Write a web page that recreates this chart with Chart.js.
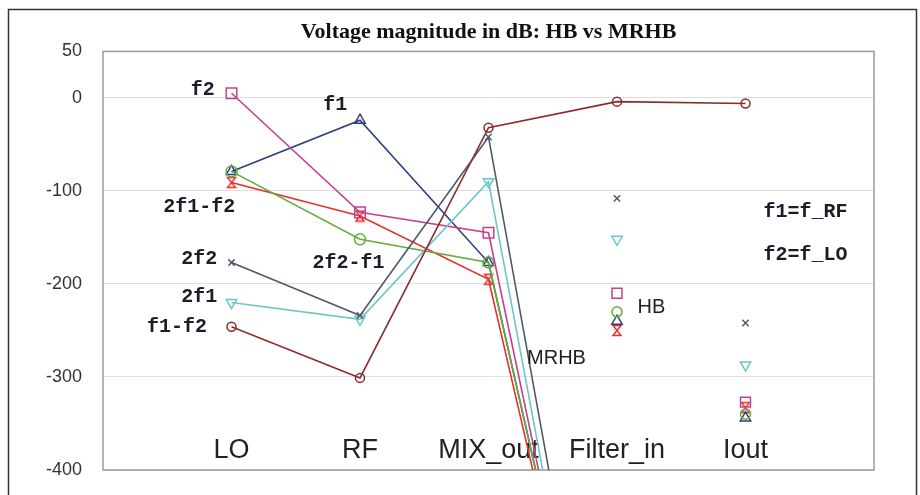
<!DOCTYPE html>
<html>
<head>
<meta charset="utf-8">
<script src="https://cdn.jsdelivr.net/npm/chart.js@4.4.0/dist/chart.umd.min.js"></script>
<style>
    html, body { margin: 0; padding: 0; background: #fff; }
</style>
</head>
<body>
<canvas id="VoltageChart" width="920" height="495"></canvas>
<script>
// nodes along the chain (x = 1..5, axis runs 0..6)
var categories = ["LO", "RF", "MIX_out", "Filter_in", "Iout"];
var yTicks = [50, 0, -100, -200, -300, -400];

// MRHB lines, one value per node (dB)
var mrhbF2     = [5, -123, -145, -800, null];
var mrhbF1     = [-79, -24, -177, -785, null];
var mrhb2F2    = [-177, -234, -42, -805, null];
var mrhb2F1    = [-220, -238, -90, -825, null];
var mrhb2F1mF2 = [-91, -127, -195, -790, null];
var mrhb2F2mF1 = [-79, -152, -177, -785, null];
var mrhbF1mF2  = [-246, -301, -32, -4, -6];

// HB markers at Filter_in and Iout
var hbF2     = [-210, -327];
var hbF1     = [-240, -344];
var hb2F2    = [-108, -242];
var hb2F1    = [-152, -287];
var hb2F1mF2 = [-250, -333];
var hb2F2mF1 = [-230, -340];

var colF2 = '#c2418e', colF1 = '#2b3d80', col2F2 = '#4c5a68', col2F1 = '#6cc6c4',
    col2F1mF2 = '#e5302c', col2F2mF1 = '#62ad3e', colF1mF2 = '#8a2c2c';

// hourglass marker for 2f1-f2
function hourglass(color) {
    var c = document.createElement('canvas');
    c.width = 12; c.height = 13;
    var g = c.getContext('2d');
    g.strokeStyle = color;
    g.lineWidth = 1.5;
    g.beginPath();
    g.moveTo(2, 1.5); g.lineTo(10, 1.5); g.lineTo(2, 11.5); g.lineTo(10, 11.5); g.closePath();
    g.stroke();
    return c;
}

function lineData(values) {
    return values.map(function (v, i) { return { x: i + 1, y: v }; });
}
function hbData(values) {
    return [{ x: 4, y: values[0] }, { x: 5, y: values[1] }];
}

function lineSet(label, values, color, style, radius, rotation) {
    return {
        label: label, data: lineData(values), borderColor: color, backgroundColor: 'transparent',
        borderWidth: 1.6, pointStyle: style, pointRadius: radius, pointRotation: rotation || 0,
        pointBorderColor: color, pointBorderWidth: 1.5, tension: 0, showLine: true
    };
}
function hbSet(label, values, color, style, radius, rotation) {
    return {
        label: label, data: hbData(values), borderColor: color, backgroundColor: 'transparent',
        showLine: false, pointStyle: style, pointRadius: radius, pointRotation: rotation || 0,
        pointBorderColor: color, pointBorderWidth: 1.5
    };
}

var annotations = [
    { text: "f2", x: 0.87, y: 9, align: 'right', mono: true },
    { text: "f1", x: 1.90, y: -8, align: 'right', mono: true },
    { text: "2f1-f2", x: 1.03, y: -117, align: 'right', mono: true },
    { text: "2f2", x: 0.89, y: -173, align: 'right', mono: true },
    { text: "2f2-f1", x: 2.19, y: -177, align: 'right', mono: true },
    { text: "2f1", x: 0.89, y: -214, align: 'right', mono: true },
    { text: "f1-f2", x: 0.81, y: -246, align: 'right', mono: true },
    { text: "f1=f_RF", x: 5.14, y: -123, align: 'left', mono: true },
    { text: "f2=f_LO", x: 5.14, y: -169, align: 'left', mono: true },
    { text: "HB", x: 4.16, y: -225, align: 'left', mono: false },
    { text: "MRHB", x: 3.30, y: -280, align: 'left', mono: false }
];

var decorPlugin = {
    id: 'decor',
    beforeDraw: function (chart) {
        var ctx = chart.ctx;
        ctx.save();
        ctx.strokeStyle = '#333';
        ctx.lineWidth = 1.5;
        ctx.beginPath();
        ctx.moveTo(8.5, 495); ctx.lineTo(8.5, 9.5); ctx.lineTo(916.5, 9.5); ctx.lineTo(916.5, 495);
        ctx.stroke();
        ctx.restore();
    },
    beforeDatasetsDraw: function (chart) {
        var ctx = chart.ctx, a = chart.chartArea, xs = chart.scales.x;
        ctx.save();
        ctx.strokeStyle = '#9a9a9a';
        ctx.lineWidth = 1.5;
        ctx.strokeRect(a.left, a.top, a.right - a.left, a.bottom - a.top);
        ctx.fillStyle = '#222';
        ctx.font = '27px "Liberation Sans", Arial, sans-serif';
        ctx.textAlign = 'center';
        ctx.textBaseline = 'alphabetic';
        for (var i = 0; i < categories.length; ++i) {
            ctx.fillText(categories[i], xs.getPixelForValue(i + 1), a.bottom - 12);
        }
        ctx.restore();
    },
    afterDatasetsDraw: function (chart) {
        var ctx = chart.ctx, xs = chart.scales.x, ys = chart.scales.y;
        ctx.save();
        ctx.textBaseline = 'middle';
        for (var i = 0; i < annotations.length; ++i) {
            var n = annotations[i];
            ctx.fillStyle = n.mono ? '#1c1c2a' : '#222';
            ctx.font = n.mono ? 'bold 20px "Liberation Mono", "Courier New", monospace'
                              : '20px "Liberation Sans", Arial, sans-serif';
            ctx.textAlign = n.align;
            ctx.fillText(n.text, xs.getPixelForValue(n.x), ys.getPixelForValue(n.y));
        }
        ctx.restore();
    }
};

var config = {
    type: 'scatter',
    data: {
        datasets: [
            lineSet('f1-f2', mrhbF1mF2, colF1mF2, 'circle', 4.5),
            lineSet('2f2', mrhb2F2, col2F2, 'crossRot', 4.5),
            lineSet('2f1', mrhb2F1, col2F1, 'triangle', 6, 180),
            lineSet('f2', mrhbF2, colF2, 'rect', 7.5),
            lineSet('2f2-f1', mrhb2F2mF1, col2F2mF1, 'circle', 5.5),
            lineSet('f1', mrhbF1, colF1, 'triangle', 6),
            lineSet('2f1-f2', mrhb2F1mF2, col2F1mF2, hourglass(col2F1mF2), 6),
            hbSet('HB 2f2', hb2F2, col2F2, 'crossRot', 4.5),
            hbSet('HB 2f1', hb2F1, col2F1, 'triangle', 6, 180),
            hbSet('HB f2', hbF2, colF2, 'rect', 7),
            hbSet('HB 2f2-f1', hb2F2mF1, col2F2mF1, 'circle', 5),
            hbSet('HB f1', hbF1, colF1, 'triangle', 6),
            hbSet('HB 2f1-f2', hb2F1mF2, col2F1mF2, hourglass(col2F1mF2), 6)
        ]
    },
    options: {
        responsive: false,
        animation: false,
        layout: { padding: { left: 0, right: 46, top: 9, bottom: 25 } },
        plugins: {
            legend: { display: false },
            tooltip: { enabled: false },
            title: {
                display: true,
                text: 'Voltage magnitude in dB: HB vs MRHB',
                fullSize: false,
                color: '#111',
                font: { family: '"Liberation Serif", "Times New Roman", serif', size: 22, weight: 'bold' },
                padding: { top: 10, bottom: 6 }
            }
        },
        scales: {
            x: { type: 'linear', min: 0, max: 6, display: false },
            y: {
                min: -400,
                max: 50,
                afterBuildTicks: function (scale) {
                    scale.ticks = yTicks.map(function (v) { return { value: v }; });
                },
                afterFit: function (scale) {
                    scale.width = 103;
                    scale.paddingTop = 11;
                    scale.paddingBottom = 11;
                },
                border: { display: false },
                grid: { color: '#dedede', lineWidth: 1, drawTicks: false },
                ticks: {
                    padding: 21,
                    color: '#333',
                    font: { family: '"Liberation Sans", Arial, sans-serif', size: 18 }
                }
            }
        }
    },
    plugins: [decorPlugin]
};

var myChart = new Chart(document.getElementById("VoltageChart"), config);
</script>
</body>
</html>
